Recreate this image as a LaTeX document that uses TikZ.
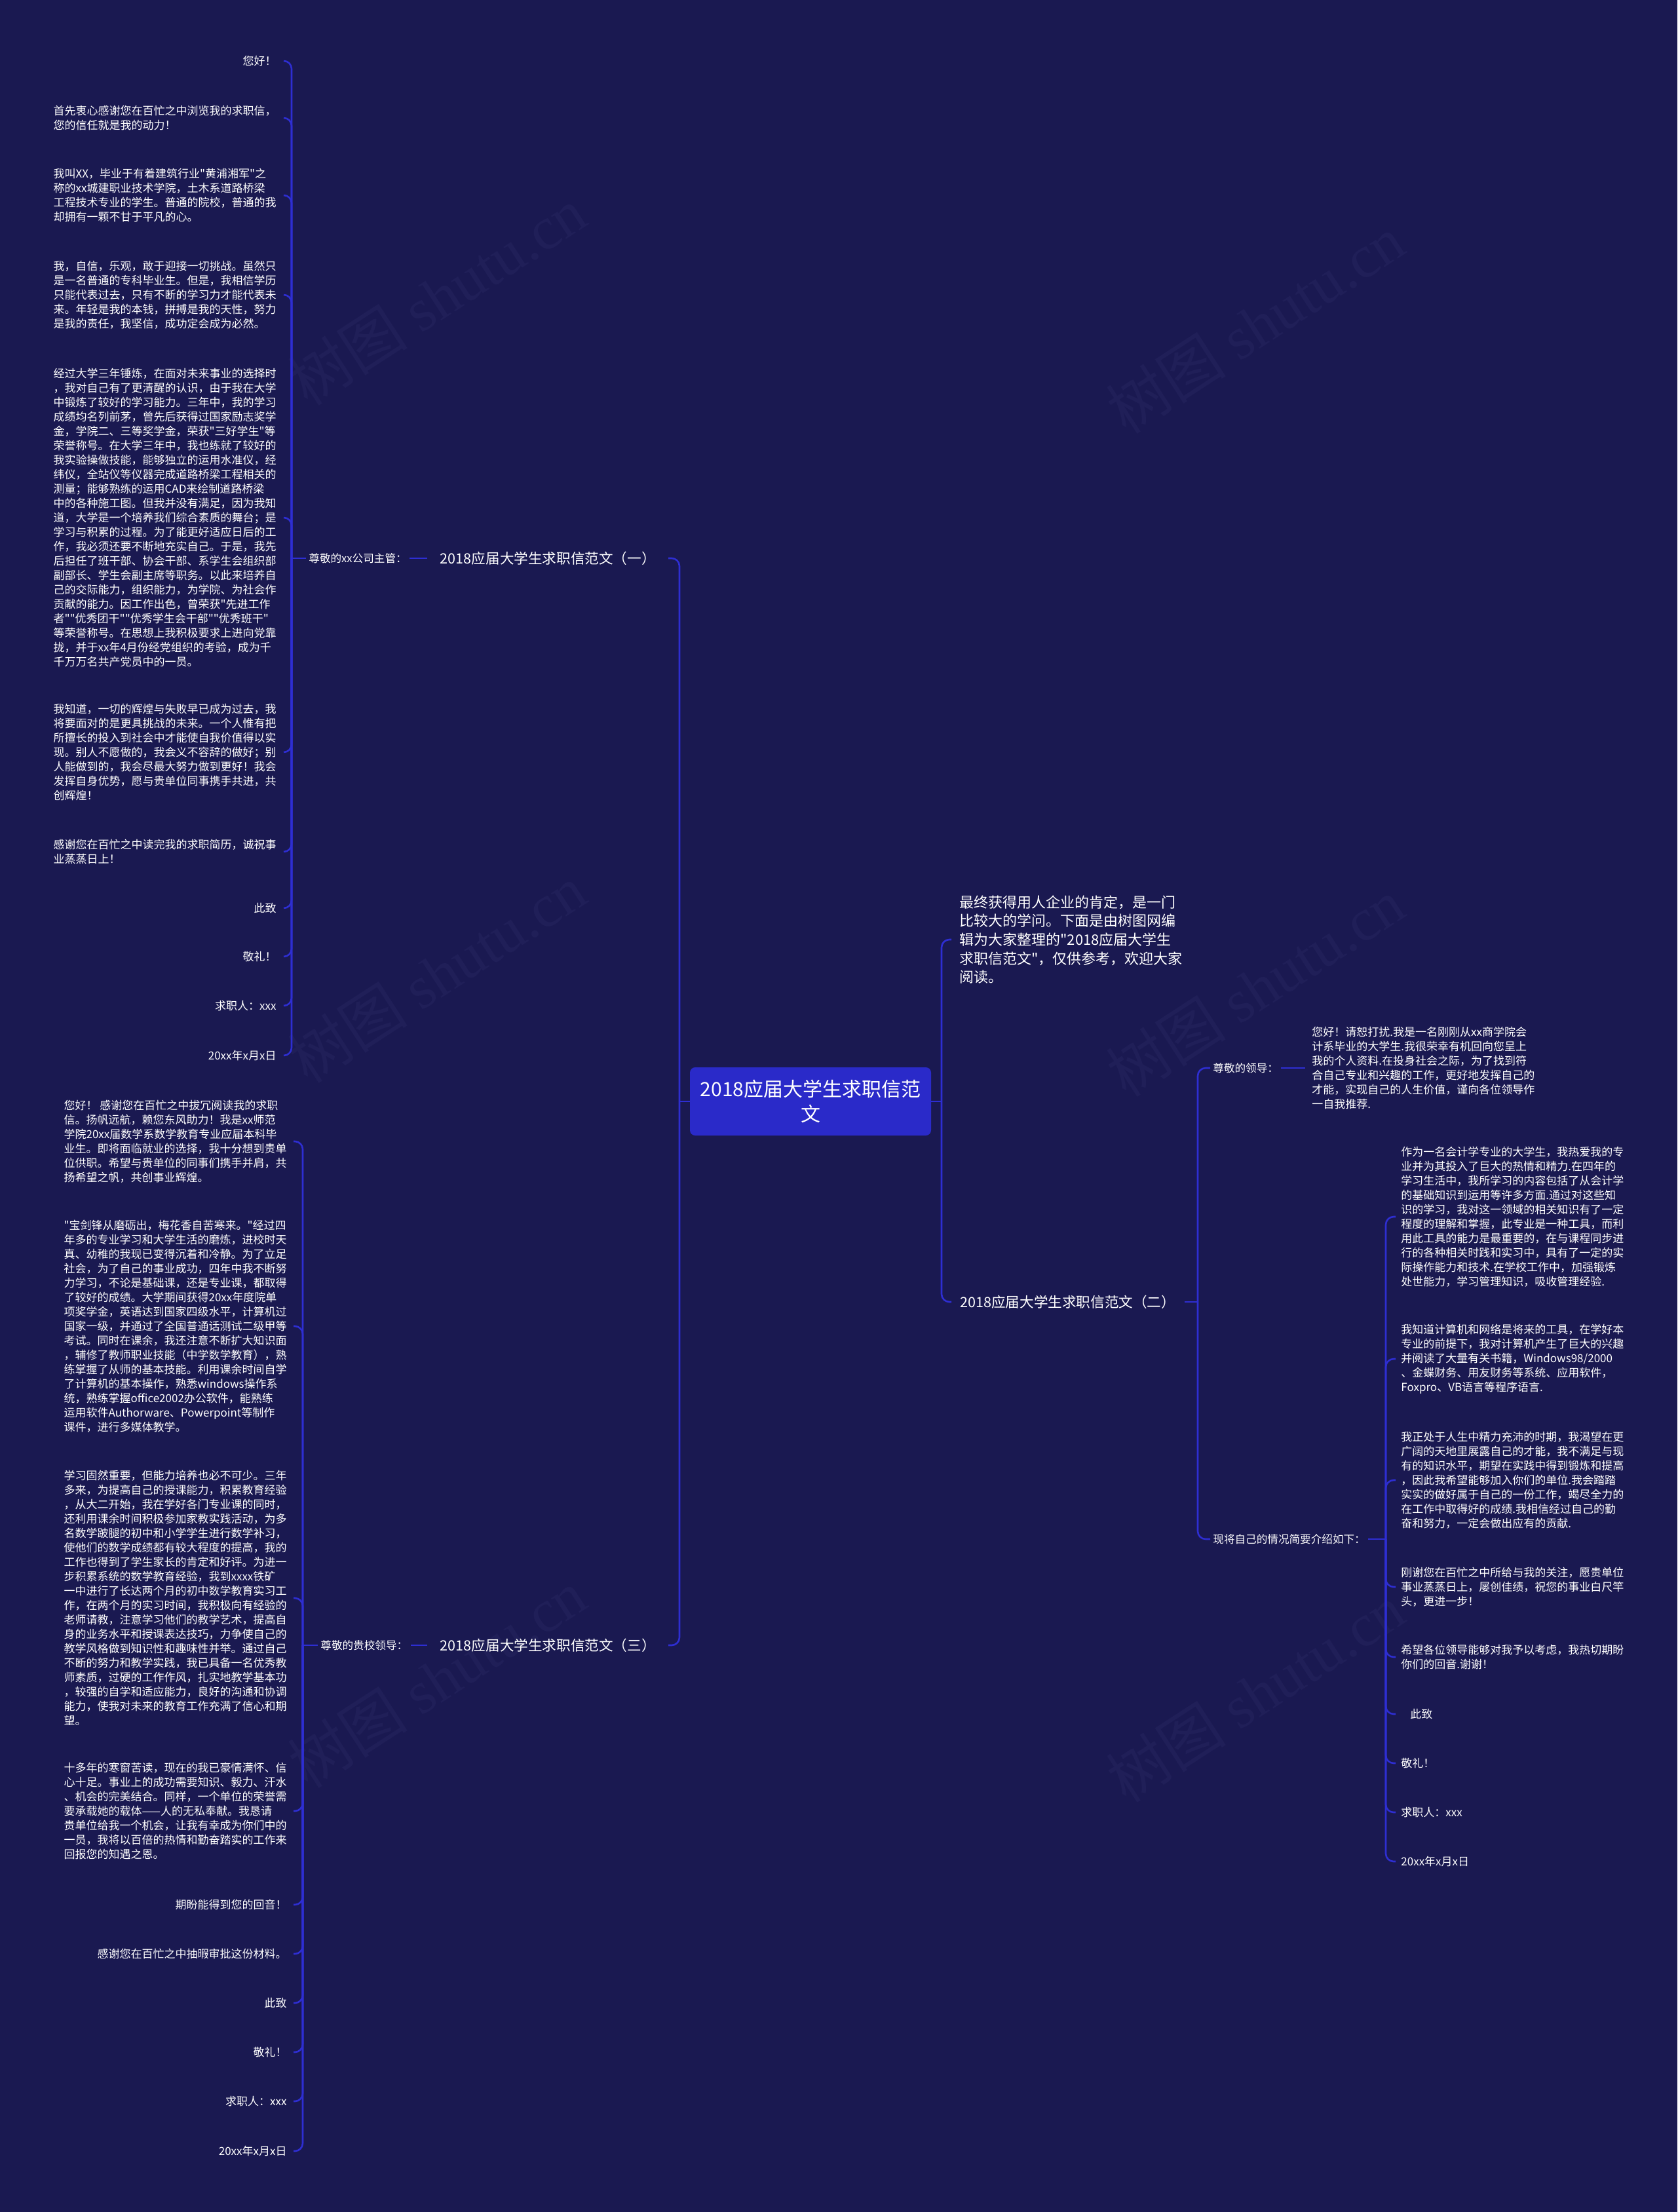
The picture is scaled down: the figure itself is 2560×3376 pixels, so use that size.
\documentclass[tikz,border=0pt]{standalone}
\usepackage{fontspec}
\setmainfont{Noto Sans CJK SC}[Ligatures=TeXOff]
\newfontfamily\wmfont{Liberation Serif}
\definecolor{bgc}{HTML}{1A1951}
\definecolor{lnc}{HTML}{2E2ED2}
\definecolor{rootc}{HTML}{2A2AC9}
\definecolor{wmc}{HTML}{201F58}
\tikzset{
  conn/.style={draw=lnc, line width=1.3pt, rounded corners=6pt},
  small/.style={text=white, font=\fontsize{8.5}{11}\selectfont, inner ysep=0pt, align=left},
  leafL/.style={small, anchor=east, inner xsep=5.5pt},
  leafM/.style={small, anchor=east, inner xsep=5pt},
  leafR/.style={small, anchor=west, inner xsep=4pt},
  lab/.style={text=white, font=\fontsize{8.3}{11}\selectfont, inner xsep=2pt, inner ysep=0pt},
  br/.style={text=white, font=\fontsize{10.8}{14}\selectfont, inner ysep=0pt},
  rootbox/.style={fill=rootc, text=white, rounded corners=4pt, minimum width=184pt, minimum height=52pt, align=center, font=\fontsize{15}{19}\selectfont},
  wm/.style={text=wmc, rotate=33, font=\fontsize{46}{46}\selectfont}
}
\begin{document}
\begin{tikzpicture}[x=0.5pt, y=-0.5pt]
\useasboundingbox (0,0) rectangle (2560,3376);
\fill[bgc] (0,0) rectangle (2560,3376);

% watermarks
\node[wm] (w1) at (667,452) {树图 {\wmfont shutu.cn}};
\node[wm] (w2) at (1916,495) {树图 {\wmfont shutu.cn}};
\node[wm] (w3) at (667,1486) {树图 {\wmfont shutu.cn}};
\node[wm] (w4) at (1916,1507) {树图 {\wmfont shutu.cn}};
\node[wm] (w5) at (667,2562) {树图 {\wmfont shutu.cn}};
\node[wm] (w6) at (1916,2584) {树图 {\wmfont shutu.cn}};

% root
\node[rootbox] (root) at (1237,1681) {2018应届大学生求职信范\\文};
\coordinate (jl) at (1037,1681);
\coordinate (jr) at (1437,1681);

% main branches
\node[br, anchor=east, inner xsep=9.5pt] (b1) at (1020,852) {2018应届大学生求职信范文（一）};
\node[br, anchor=east, inner xsep=9.5pt] (b3) at (1020,2511) {2018应届大学生求职信范文（三）};
\node[br, anchor=west, inner xsep=6.5pt] (b2) at (1452,1987) {2018应届大学生求职信范文（二）};
\node[anchor=west, inner xsep=6pt, inner ysep=0pt, text=white, align=left, font=\fontsize{11}{14.3}\selectfont] (intro) at (1452,1434) {最终获得用人企业的肯定，是一门\\比较大的学问。下面是由树图网编\\辑为大家整理的"2018应届大学生\\求职信范文"，仅供参考，欢迎大家\\阅读。};

\draw[conn] (root.west) -- (jl);
\draw[conn] (jl) |- (b1.east);
\draw[conn] (jl) |- (b3.east);
\draw[conn] (root.east) -- (jr);
\draw[conn] (jr) |- (intro.west);
\draw[conn] (jr) |- (b2.west);

% ===== group 1 =====
\node[lab, anchor=west] (l1) at (467,852) {尊敬的xx公司主管：};
\coordinate (j1) at (445,852);
\draw[conn] (b1.west) -- (l1.east);
\draw[conn] (l1.west) -- (j1);

\node[leafL] (a1) at (433,93) {您好！};
\node[leafL] (a2) at (433,180) {首先衷心感谢您在百忙之中浏览我的求职信，\\您的信任就是我的动力！};
\node[leafL] (a3) at (433,298) {我叫XX，毕业于有着建筑行业"黄浦湘军"之\\称的xx城建职业技术学院，土木系道路桥梁\\工程技术专业的学生。普通的院校，普通的我\\却拥有一颗不甘于平凡的心。};
\node[leafL] (a4) at (433,450) {我，自信，乐观，敢于迎接一切挑战。虽然只\\是一名普通的专科毕业生。但是，我相信学历\\只能代表过去，只有不断的学习力才能代表未\\来。年轻是我的本钱，拼搏是我的天性，努力\\是我的责任，我坚信，成功定会成为必然。};
\node[leafL] (a5) at (433,790) {经过大学三年锤炼，在面对未来事业的选择时\\，我对自己有了更清醒的认识，由于我在大学\\中锻炼了较好的学习能力。三年中，我的学习\\成绩均名列前茅，曾先后获得过国家励志奖学\\金，学院二、三等奖学金，荣获"三好学生"等\\荣誉称号。在大学三年中，我也练就了较好的\\我实验操做技能，能够独立的运用水准仪，经\\纬仪，全站仪等仪器完成道路桥梁工程相关的\\测量；能够熟练的运用CAD来绘制道路桥梁\\中的各种施工图。但我并没有满足，因为我知\\道，大学是一个培养我们综合素质的舞台；是\\学习与积累的过程。为了能更好适应日后的工\\作，我必须还要不断地充实自己。于是，我先\\后担任了班干部、协会干部、系学生会组织部\\副部长、学生会副主席等职务。以此来培养自\\己的交际能力，组织能力，为学院、为社会作\\贡献的能力。因工作出色，曾荣获"先进工作\\者""优秀团干""优秀学生会干部""优秀班干"\\等荣誉称号。在思想上我积极要求上进向党靠\\拢，并于xx年4月份经党组织的考验，成为千\\千万万名共产党员中的一员。};
\node[leafL] (a6) at (433,1148) {我知道，一切的辉煌与失败早已成为过去，我\\将要面对的是更具挑战的未来。一个人惟有把\\所擅长的投入到社会中才能使自我价值得以实\\现。别人不愿做的，我会义不容辞的做好；别\\人能做到的，我会尽最大努力做到更好！我会\\发挥自身优势，愿与贵单位同事携手共进，共\\创辉煌！};
\node[leafL] (a7) at (433,1300) {感谢您在百忙之中读完我的求职简历，诚祝事\\业蒸蒸日上！};
\node[leafL] (a8) at (433,1386) {此致};
\node[leafL] (a9) at (433,1460) {敬礼！};
\node[leafL] (a10) at (433,1535) {求职人：xxx};
\node[leafL] (a11) at (433,1611) {20xx年x月x日};
\foreach \n in {a1,a2,a3,a4,a5,a6,a7,a8,a9,a10,a11} \draw[conn] (j1) |- (\n.east);

% ===== group 3 =====
\node[lab, anchor=west] (l3) at (485,2511) {尊敬的贵校领导：};
\coordinate (j3) at (462,2511);
\draw[conn] (b3.west) -- (l3.east);
\draw[conn] (l3.west) -- (j3);

\node[leafM] (c1) at (448,1742) {您好！ 感谢您在百忙之中拔冗阅读我的求职\\信。扬帆远航，赖您东风助力！我是xx师范\\学院20xx届数学系数学教育专业应届本科毕\\业生。即将面临就业的选择，我十分想到贵单\\位供职。希望与贵单位的同事们携手并肩，共\\扬希望之帆，共创事业辉煌。};
\node[leafM] (c2) at (448,2024) {"宝剑锋从磨砺出，梅花香自苦寒来。"经过四\\年多的专业学习和大学生活的磨炼，进校时天\\真、幼稚的我现已变得沉着和冷静。为了立足\\社会，为了自己的事业成功，四年中我不断努\\力学习，不论是基础课，还是专业课，都取得\\了较好的成绩。大学期间获得20xx年度院单\\项奖学金，英语达到国家四级水平，计算机过\\国家一级，并通过了全国普通话测试二级甲等\\考试。同时在课余，我还注意不断扩大知识面\\，辅修了教师职业技能（中学数学教育），熟\\练掌握了从师的基本技能。利用课余时间自学\\了计算机的基本操作，熟悉windows操作系\\统，熟练掌握office2002办公软件，能熟练\\运用软件Authorware、Powerpoint等制作\\课件，进行多媒体教学。};
\node[leafM] (c3) at (448,2439) {学习固然重要，但能力培养也必不可少。三年\\多来，为提高自己的授课能力，积累教育经验\\，从大二开始，我在学好各门专业课的同时，\\还利用课余时间积极参加家教实践活动，为多\\名数学跛腿的初中和小学学生进行数学补习，\\使他们的数学成绩都有较大程度的提高，我的\\工作也得到了学生家长的肯定和好评。为进一\\步积累系统的数学教育经验，我到xxxx铁矿\\一中进行了长达两个月的初中数学教育实习工\\作，在两个月的实习时间，我积极向有经验的\\老师请教，注意学习他们的教学艺术，提高自\\身的业务水平和授课表达技巧，力争使自己的\\教学风格做到知识性和趣味性并举。通过自己\\不断的努力和教学实践，我已具备一名优秀教\\师素质，过硬的工作作风，扎实地教学基本功\\，较强的自学和适应能力，良好的沟通和协调\\能力，使我对未来的教育工作充满了信心和期\\望。};
\node[leafM] (c4) at (448,2764) {十多年的寒窗苦读，现在的我已豪情满怀、信\\心十足。事业上的成功需要知识、毅力、汗水\\、机会的完美结合。同样，一个单位的荣誉需\\要承载她的载体——人的无私奉献。我恳请\\贵单位给我一个机会，让我有幸成为你们中的\\一员，我将以百倍的热情和勤奋踏实的工作来\\回报您的知遇之恩。};
\node[leafM] (c5) at (448,2907) {期盼能得到您的回音！};
\node[leafM] (c6) at (448,2982) {感谢您在百忙之中抽暇审批这份材料。};
\node[leafM] (c7) at (448,3057) {此致};
\node[leafM] (c8) at (448,3132) {敬礼！};
\node[leafM] (c9) at (448,3207) {求职人：xxx};
\node[leafM] (c10) at (448,3283) {20xx年x月x日};
\foreach \n in {c1,c2,c3,c4,c5,c6,c7,c8,c9,c10} \draw[conn] (j3) |- (\n.east);

% ===== group 2 =====
\coordinate (j2) at (1828,1987);
\draw[conn] (b2.east) -- (j2);
\node[lab, anchor=west] (l2a) at (1847,1630) {尊敬的领导：};
\node[lab, anchor=west] (l2b) at (1847,2349) {现将自己的情况简要介绍如下：};
\draw[conn] (j2) |- (l2a.west);
\draw[conn] (j2) |- (l2b.west);

\node[small, anchor=west, inner xsep=5pt] (r1) at (1992,1630) {您好！请恕打扰.我是一名刚刚从xx商学院会\\计系毕业的大学生.我很荣幸有机回向您呈上\\我的个人资料.在投身社会之际，为了找到符\\合自己专业和兴趣的工作，更好地发挥自己的\\才能，实现自己的人生价值，谨向各位领导作\\一自我推荐.};
\draw[conn] (l2a.east) -- (r1.west);

\coordinate (j2b) at (2115,2349);
\draw[conn] (l2b.east) -- (j2b);
\node[leafR] (d1) at (2130,1857) {作为一名会计学专业的大学生，我热爱我的专\\业并为其投入了巨大的热情和精力.在四年的\\学习生活中，我所学习的内容包括了从会计学\\的基础知识到运用等许多方面.通过对这些知\\识的学习，我对这一领域的相关知识有了一定\\程度的理解和掌握，此专业是一种工具，而利\\用此工具的能力是最重要的，在与课程同步进\\行的各种相关时践和实习中，具有了一定的实\\际操作能力和技术.在学校工作中，加强锻炼\\处世能力，学习管理知识，吸收管理经验.};
\node[leafR] (d2) at (2130,2074) {我知道计算机和网络是将来的工具，在学好本\\专业的前提下，我对计算机产生了巨大的兴趣\\并阅读了大量有关书籍，Windows98/2000\\、金蝶财务、用友财务等系统、应用软件，\\Foxpro、VB语言等程序语言.};
\node[leafR] (d3) at (2130,2259) {我正处于人生中精力充沛的时期，我渴望在更\\广阔的天地里展露自己的才能，我不满足与现\\有的知识水平，期望在实践中得到锻炼和提高\\，因此我希望能够加入你们的单位.我会踏踏\\实实的做好属于自己的一份工作，竭尽全力的\\在工作中取得好的成绩.我相信经过自己的勤\\奋和努力，一定会做出应有的贡献.};
\node[leafR] (d4) at (2130,2422) {刚谢您在百忙之中所给与我的关注，愿贵单位\\事业蒸蒸日上，屡创佳绩，祝您的事业白尺竿\\头，更进一步！};
\node[leafR] (d5) at (2130,2529) {希望各位领导能够对我予以考虑，我热切期盼\\你们的回音.谢谢！};
\node[leafR] (d6) at (2130,2616) {\hspace*{7pt}此致};
\node[leafR] (d7) at (2130,2691) {敬礼！};
\node[leafR] (d8) at (2130,2766) {求职人：xxx};
\node[leafR] (d9) at (2130,2841) {20xx年x月x日};
\foreach \n in {d1,d2,d3,d4,d5,d6,d7,d8,d9} \draw[conn] (j2b) |- (\n.west);
\end{tikzpicture}
\end{document}
